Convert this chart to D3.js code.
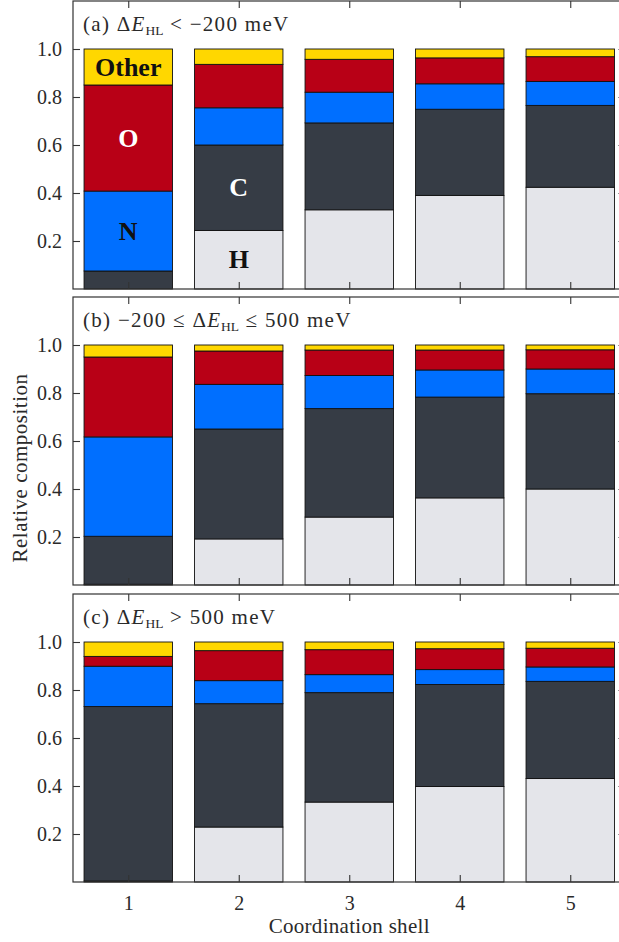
<!DOCTYPE html>
<html>
<head>
<meta charset="utf-8">
<script src="https://cdn.jsdelivr.net/npm/d3@7"></script>
<style>
  html, body { margin: 0; padding: 0; background: #fff; }
  svg { display: block; font-family: "Liberation Serif", "DejaVu Serif", serif; }
  svg text { font-family: "Liberation Serif", "DejaVu Serif", serif; }
</style>
</head>
<body>
<svg id="chart" width="619" height="942"></svg>
<script>
// ---------------- data ----------------
const shells = [1, 2, 3, 4, 5];
const elements = ["H", "C", "N", "O", "Other"];
const yTicks = [0.2, 0.4, 0.6, 0.8, 1.0];

// panel (a): ΔE_HL < −200 meV
const aH     = [0.000, 0.244, 0.330, 0.390, 0.424];
const aC     = [0.075, 0.356, 0.362, 0.359, 0.341];
const aN     = [0.333, 0.155, 0.128, 0.106, 0.100];
const aO     = [0.442, 0.181, 0.137, 0.108, 0.103];
const aOther = [0.150, 0.064, 0.043, 0.037, 0.032];

// panel (b): −200 ≤ ΔE_HL ≤ 500 meV
const bH     = [0.003, 0.192, 0.283, 0.363, 0.400];
const bC     = [0.200, 0.458, 0.452, 0.420, 0.397];
const bN     = [0.414, 0.186, 0.138, 0.113, 0.103];
const bO     = [0.333, 0.139, 0.106, 0.083, 0.080];
const bOther = [0.050, 0.025, 0.021, 0.021, 0.020];

// panel (c): ΔE_HL > 500 meV
const cH     = [0.004, 0.229, 0.333, 0.398, 0.431];
const cC     = [0.727, 0.514, 0.456, 0.425, 0.405];
const cN     = [0.168, 0.096, 0.075, 0.062, 0.060];
const cO     = [0.041, 0.125, 0.104, 0.087, 0.078];
const cOther = [0.060, 0.036, 0.032, 0.028, 0.026];

const panelLetters = ["(a)", "(b)", "(c)"];
// in-bar labels (panel a)
const labelText  = ["Other", "O", "N", "C", "H"];
const labelShell = [1, 1, 1, 2, 2];

// ---------------- styling / layout ----------------
const FONT = "Liberation Serif, DejaVu Serif, serif";
const colors = { H: "#e4e5ea", C: "#363c45", N: "#006fff", O: "#b80016", Other: "#ffd700" };
const labelColors = { H: "#111", C: "#fff", N: "#111", O: "#fff", Other: "#111" };

const panels = [
  [aH, aC, aN, aO, aOther],
  [bH, bC, bN, bO, bOther],
  [cH, cC, cN, cO, cOther]
];

const svg = d3.select("#chart");
const left = 73, right = 625.5;
const panelTops = [1, 297, 594];
const panelH = 288;
const tickLen = 7;
const textColor = "#2a2a2a";
const spineColor = "#333";

const x = d3.scaleLinear().domain([0.5, 5.5]).range([left, right]);
const step = x(2) - x(1);
const barW = 0.8 * step;

const stack = d3.stack().keys(elements);

function title(g, i) {
  const t = g.append("text")
    .attr("x", left + 10)
    .attr("y", panelTops[i] + 30)
    .attr("font-family", FONT)
    .attr("font-size", 21)
    .attr("fill", textColor);
  const ls = 1.3;
  t.append("tspan").attr("letter-spacing", ls).text(panelLetters[i] + " ");
  if (i === 1) t.append("tspan").attr("letter-spacing", ls).text("\u2212200 \u2264 ");
  t.append("tspan").attr("letter-spacing", ls).text("\u0394");
  t.append("tspan").attr("font-style", "italic").attr("letter-spacing", 0).text("E");
  t.append("tspan").attr("font-size", 13.5).attr("letter-spacing", 0).attr("dy", 4).attr("dx", 1).text("HL");
  const rest = i === 0 ? " < \u2212200 meV" : i === 1 ? " \u2264 500 meV" : " > 500 meV";
  t.append("tspan").attr("letter-spacing", ls).attr("dy", -4).text(rest);
}

panels.forEach((series, i) => {
  const top = panelTops[i];
  const y = d3.scaleLinear().domain([0, 1.2]).range([top + panelH, top]);
  const rows = shells.map((s, j) => {
    const r = { shell: s };
    elements.forEach((e, k) => r[e] = series[k][j]);
    return r;
  });
  const stacked = stack(rows);
  const g = svg.append("g");

  // bars
  stacked.forEach(layer => {
    g.append("g")
      .selectAll("rect")
      .data(layer)
      .join("rect")
      .attr("x", d => x(d.data.shell) - barW / 2)
      .attr("width", barW)
      .attr("y", d => y(d[1]))
      .attr("height", d => Math.max(0, y(d[0]) - y(d[1])))
      .attr("fill", colors[layer.key])
      .attr("stroke", "#111")
      .attr("stroke-width", 0.9);
  });

  // in-bar labels for panel (a)
  if (i === 0) {
    labelText.forEach((lab, k) => {
      const layer = stacked.find(l => l.key === lab);
      const d = layer[shells.indexOf(labelShell[k])];
      g.append("text")
        .attr("x", x(labelShell[k]))
        .attr("y", y((d[0] + d[1]) / 2))
        .attr("text-anchor", "middle")
        .attr("dominant-baseline", "central")
        .attr("font-family", FONT)
        .attr("font-weight", "bold")
        .attr("font-size", 26)
        .attr("fill", labelColors[lab])
        .text(lab);
    });
  }

  // frame
  g.append("rect")
    .attr("x", left).attr("y", top)
    .attr("width", right - left).attr("height", panelH)
    .attr("fill", "none").attr("stroke", spineColor).attr("stroke-width", 1.2);

  // axes
  const axL = g.append("g").attr("transform", `translate(${left},0)`)
    .call(d3.axisLeft(y).tickValues(yTicks).tickSize(-tickLen).tickPadding(11).tickFormat(d3.format(".1f")));
  const axR = g.append("g").attr("transform", `translate(${right},0)`)
    .call(d3.axisRight(y).tickValues(yTicks).tickSize(-tickLen).tickFormat(""));
  const axT = g.append("g").attr("transform", `translate(0,${top})`)
    .call(d3.axisTop(x).tickValues(shells).tickSize(-tickLen).tickFormat(""));
  const axB = g.append("g").attr("transform", `translate(0,${top + panelH})`)
    .call(d3.axisBottom(x).tickValues(shells).tickSize(-tickLen).tickPadding(14)
      .tickFormat(i === 2 ? d3.format("d") : ""));
  [axL, axR, axT, axB].forEach(a => {
    a.attr("font-family", FONT);
    a.select(".domain").remove();
    a.selectAll(".tick line").attr("stroke", spineColor).attr("stroke-width", 1.1);
    a.selectAll("text").attr("font-family", FONT).attr("font-size", 20).attr("fill", textColor);
  });

  title(g, i);
});

// axis titles
svg.append("text")
  .attr("transform", "translate(20,468) rotate(-90)")
  .attr("text-anchor", "middle")
  .attr("dominant-baseline", "central")
  .attr("font-family", FONT)
  .attr("font-size", 21)
  .attr("letter-spacing", 0.5)
  .attr("fill", textColor)
  .text("Relative composition");

svg.append("text")
  .attr("x", (left + right) / 2)
  .attr("y", 933)
  .attr("text-anchor", "middle")
  .attr("font-family", FONT)
  .attr("font-size", 21)
  .attr("letter-spacing", 0.3)
  .attr("fill", textColor)
  .text("Coordination shell");
</script>
</body>
</html>
